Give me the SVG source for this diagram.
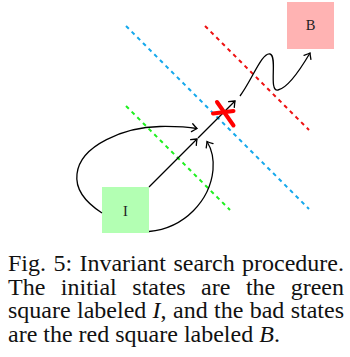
<svg xmlns="http://www.w3.org/2000/svg" width="350" height="357" viewBox="0 0 350 357">
<style>
.dash{fill:none;stroke-width:2;stroke-dasharray:4 4}
.con{fill:none;stroke:#000;stroke-width:1.3}
.lbl{font-family:"Liberation Serif","Times New Roman",serif;font-size:14.5px;fill:#222;text-anchor:middle}
.cap{font-family:"Liberation Serif","Times New Roman",serif;font-size:24px;fill:#111}
</style>
<defs>
<marker id="ah" markerUnits="userSpaceOnUse" markerWidth="12" markerHeight="12" refX="0" refY="0" viewBox="-6 -6 12 12" orient="auto" overflow="visible">
<path d="M-5,-4 Q-1.5,-1 0,0 Q-1.5,1 -5,4" fill="none" stroke="#000" stroke-width="1.3" stroke-linecap="round"/>
</marker>
</defs>
<rect width="350" height="357" fill="#fff"/>
<g id="regions">
<line class="dash" stroke="#14a8ec" x1="126" y1="26" x2="309" y2="209"/>
<line class="dash" stroke="#1ff01f" x1="126" y1="106" x2="230" y2="210"/>
<line class="dash" stroke="#ee1111" x1="205" y1="26" x2="309" y2="130"/>
</g>
<g id="node-I">
<rect x="102" y="187" width="47" height="46" fill="#b3ffb3"/>
<text class="lbl" x="125.5" y="215.5">I</text>
</g>
<g id="node-B">
<rect x="287" y="2" width="47" height="47" fill="#ffb3b3"/>
<text class="lbl" x="310.5" y="30">B</text>
</g>
<g id="connectors">
<path class="con" d="M149,187 L197,139" marker-end="url(#ah)"/>
<path class="con" d="M198,138 L235,101" marker-end="url(#ah)"/>
<path class="con" d="M240,96 C252,80 262,52 270,54 C278,56 268,92 278,90 C288,88 300,70 310,53" marker-end="url(#ah)"/>
<path class="con" d="M102,213 C85,202 75,190 77,174 C80,145 125,127 160,126.5 C175,126.3 188,127 197,128.5" marker-end="url(#ah)"/>
<path class="con" d="M149,231.5 C185,228 210,200 213,170 C214,158 211,148 207,141.5" marker-end="url(#ah)"/>
</g>
<g id="cross" stroke="#ff0000" stroke-width="4" stroke-linecap="round">
<line x1="213" y1="113.5" x2="233.5" y2="111"/>
<line x1="217" y1="102" x2="233.5" y2="125.5"/>
</g>
<g id="caption" class="cap">
<text y="271"><tspan x="8">Fig.</tspan><tspan x="53.4">5:</tspan><tspan x="79.4">Invariant</tspan><tspan x="173.4">search</tspan><tspan x="242">procedure.</tspan></text>
<text y="294.5"><tspan x="8">The</tspan><tspan x="60.8">initial</tspan><tspan x="132.3">states</tspan><tspan x="201.1">are</tspan><tspan x="245.9">the</tspan><tspan x="290.7">green</tspan></text>
<text y="318"><tspan x="8">square</tspan><tspan x="77">labeled</tspan><tspan x="152.6" font-style="italic">I</tspan><tspan>,</tspan><tspan x="173">and</tspan><tspan x="214">the</tspan><tspan x="249.7">bad</tspan><tspan x="290.7">states</tspan></text>
<text y="341.5" x="8">are the red square labeled <tspan font-style="italic">B</tspan>.</text>
</g>
</svg>
